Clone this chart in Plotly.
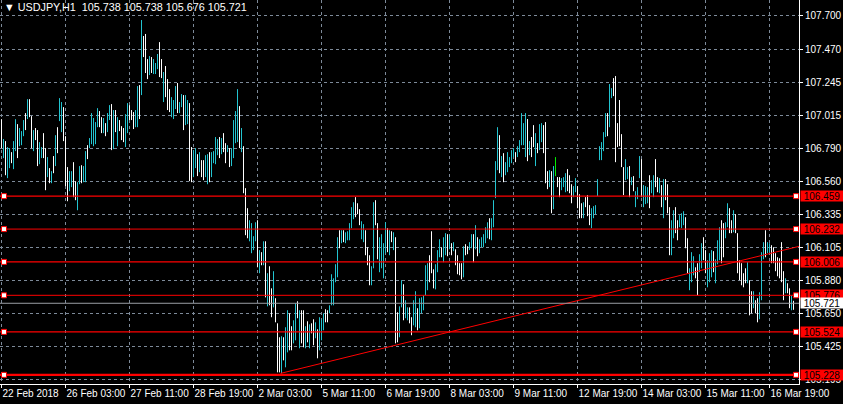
import plotly.graph_objects as go

# ---------------- data ----------------
highs = [
106.989,106.852,106.838,106.797,106.790,106.762,106.838,106.989,106.955,106.928,
106.907,106.983,107.031,107.127,107.127,107.010,106.914,106.928,106.914,106.831,
106.797,106.893,106.790,106.728,106.652,106.631,106.735,106.879,106.934,107.134,
107.107,107.072,106.872,106.659,106.631,106.631,106.693,106.562,106.555,106.666,
106.672,106.666,106.769,106.810,106.859,107.031,106.997,106.969,107.065,107.045,
107.003,106.997,106.962,107.031,107.086,107.093,107.052,107.052,107.003,106.983,
106.941,106.928,107.024,107.100,107.086,107.052,107.038,107.052,107.217,107.224,
107.672,107.562,107.576,107.403,107.424,107.417,107.403,107.376,107.438,107.520,
107.403,107.314,107.355,107.265,107.196,107.141,107.121,107.217,107.238,107.107,
107.162,107.155,107.155,107.121,107.100,106.797,106.776,106.790,106.748,106.762,
106.707,106.707,106.741,106.748,106.762,106.762,106.769,106.866,106.852,106.866,
106.859,106.893,106.824,106.810,106.790,106.790,106.983,107.045,107.196,107.079,
106.928,106.803,106.514,106.376,106.293,106.273,106.183,106.279,106.293,106.087,
106.073,106.148,106.148,105.928,105.976,105.824,105.942,105.756,105.583,105.487,
105.494,105.487,105.556,105.673,105.652,105.563,105.604,105.721,105.735,105.673,
105.673,105.673,105.563,105.597,105.576,105.583,105.611,105.590,105.542,105.625,
105.611,105.652,105.680,105.673,105.707,105.921,105.893,105.990,106.176,106.224,
106.224,106.224,106.210,106.217,106.273,106.383,106.417,106.452,106.410,106.369,
106.286,106.266,106.224,106.107,106.052,105.976,106.417,106.431,106.273,106.176,
106.197,106.135,106.279,106.238,106.224,106.217,106.210,106.176,105.659,105.700,
105.880,105.852,105.742,105.693,105.693,105.625,105.742,105.804,105.687,105.756,
105.762,105.776,105.983,105.997,106.052,106.217,105.955,105.990,106.087,106.162,
106.107,106.176,106.204,106.197,106.190,106.135,106.142,106.093,106.052,105.997,
105.997,106.114,106.128,106.114,106.142,106.197,106.197,106.259,106.176,106.162,
106.176,106.197,106.245,106.279,106.307,106.307,106.431,106.700,106.934,106.879,
106.735,106.755,106.693,106.762,106.728,106.776,106.790,106.762,106.803,106.845,
107.031,106.962,107.031,106.990,106.838,106.866,106.948,106.893,106.824,106.955,
106.962,106.948,106.969,106.631,106.638,106.631,106.666,106.728,106.590,106.590,
106.583,106.590,106.617,106.645,106.603,106.541,106.528,106.583,106.528,106.472,
106.410,106.417,106.452,106.466,106.397,106.376,106.390,106.397,106.576,106.803,
106.831,106.900,107.031,107.031,107.231,107.203,107.272,107.286,106.962,107.121,
106.886,106.659,106.714,106.659,106.666,106.590,106.597,106.493,106.521,106.735,
106.714,106.535,106.528,106.521,106.603,106.569,106.603,106.714,106.590,106.583,
106.535,106.576,106.576,106.541,106.383,106.293,106.362,106.383,106.293,106.328,
106.341,106.355,106.314,106.169,105.962,106.073,106.045,105.969,105.997,106.059,
106.135,106.176,106.087,106.018,106.066,106.087,106.080,106.024,106.155,106.245,
106.293,106.273,106.279,106.410,106.376,106.293,106.362,106.335,106.204,106.018,
105.997,105.928,105.962,106.004,105.880,105.804,105.804,105.742,105.756,105.797,
106.073,106.142,106.224,106.142,106.135,106.121,106.107,106.066,106.038,106.031,
106.142,105.942,105.893,105.859,105.824,105.776,105.738]

lows = [
106.790,106.721,106.603,106.583,106.652,106.686,106.645,106.769,106.721,106.803,
106.810,106.872,106.914,106.990,107.003,106.790,106.769,106.845,106.666,106.679,
106.721,106.721,106.500,106.590,106.548,106.548,106.617,106.666,106.755,106.976,
106.900,106.838,106.528,106.424,106.493,106.521,106.452,106.431,106.362,106.541,
106.548,106.555,106.555,106.714,106.790,106.817,106.803,106.817,106.934,106.934,
106.893,106.893,106.872,106.900,106.983,106.776,106.783,106.900,106.803,106.907,
106.845,106.831,106.797,106.893,106.983,106.983,106.921,106.934,106.934,106.990,
107.155,107.417,107.307,107.265,107.293,107.307,107.300,107.300,107.334,107.279,
107.272,107.107,107.141,107.052,107.038,107.003,106.990,107.059,107.031,107.031,
107.072,106.914,106.948,106.955,106.562,106.555,106.590,106.652,106.597,106.624,
106.590,106.569,106.590,106.541,106.555,106.590,106.686,106.679,106.741,106.721,
106.748,106.762,106.686,106.762,106.659,106.666,106.721,106.824,106.831,106.790,
106.762,106.479,106.190,106.169,106.148,106.066,106.087,106.148,105.969,105.928,
105.983,105.983,105.762,105.700,105.707,105.625,105.693,105.590,105.245,105.245,
105.238,105.328,105.280,105.383,105.397,105.397,105.445,105.466,105.618,105.411,
105.445,105.418,105.411,105.452,105.411,105.514,105.432,105.480,105.342,105.397,
105.466,105.535,105.590,105.590,105.652,105.707,105.707,105.866,105.900,106.100,
106.135,106.142,106.135,106.155,106.155,106.238,106.300,106.314,106.335,106.259,
106.162,106.142,106.052,105.983,105.845,105.845,105.962,106.259,106.024,105.935,
105.962,105.893,106.066,106.073,106.052,106.142,106.087,105.445,105.452,105.487,
105.693,105.604,105.618,105.604,105.583,105.501,105.569,105.556,105.535,105.549,
105.652,105.673,105.776,105.811,105.866,105.928,105.824,105.817,105.935,106.038,
106.038,106.004,106.052,106.045,106.093,106.052,106.080,105.983,105.921,105.914,
105.886,105.900,106.052,106.059,106.087,106.100,106.004,106.093,106.045,106.066,
106.107,106.107,106.135,106.169,106.162,106.155,106.245,106.445,106.638,106.617,
106.590,106.555,106.603,106.624,106.659,106.686,106.728,106.693,106.728,106.762,
106.810,106.810,106.728,106.700,106.741,106.728,106.797,106.666,106.755,106.776,
106.831,106.755,106.548,106.507,106.521,106.341,106.369,106.597,106.521,106.452,
106.500,106.521,106.486,106.493,106.479,106.410,106.452,106.486,106.376,106.307,
106.307,106.307,106.383,106.321,106.259,106.238,106.307,106.335,106.459,106.707,
106.707,106.769,106.866,106.872,106.934,107.134,107.148,106.693,106.797,106.803,
106.659,106.466,106.569,106.576,106.452,106.535,106.493,106.383,106.438,106.583,
106.452,106.383,106.404,106.410,106.376,106.479,106.452,106.521,106.486,106.479,
106.383,106.307,106.431,106.341,106.052,106.052,106.169,106.204,106.155,106.245,
106.238,106.259,106.100,105.928,105.811,105.866,105.914,105.893,105.776,105.935,
105.962,106.018,105.928,105.831,105.866,105.900,105.935,105.859,105.990,106.018,
105.997,106.038,106.169,106.245,106.204,106.204,106.210,106.204,105.928,105.880,
105.845,105.831,105.859,105.859,105.638,105.652,105.687,105.652,105.590,105.611,
105.742,106.024,106.038,106.066,106.073,105.997,105.997,105.942,105.907,105.893,
105.866,105.742,105.790,105.790,105.687,105.673,105.676]

# u = up bar (cyan), d = down bar (white), n = unchanged bar (green)
directions = (
    "duduuduudu" "uududduddu" "uddudududu" "uddduudduu" "duuduuuuud"
    "duduududud" "dduuddduud" "uddduduuud" "duddduuudu" "uduudduudu"
    "dduuduuuud" "udduduuuud" "uddduuuudu" "dududduddd" "uduudduudu"
    "ddududdudu" "uudduuuuud" "uduuuuuddd" "uuddduuddu" "uuudududdu"
    "uduudduudu" "uuuuddduuu" "duudududdd" "dudduududu" "uuuuduuuud"
    "uduuuuuduu" "uuududdudu" "udddudundd" "uuuddduudd" "duddduuuuu"
    "uuuduudddd" "dduududuuu" "duuuduuddu" "duddduuddu" "uudduuuddu"
    "udduuuduuu" "dduudduddd" "dddudduddu" "uuduuddddd" "dduddud"
)

x_tick_pos = [0, 32, 64, 96, 128, 160, 192, 224, 256, 288, 320, 352, 384]
x_tick_text = ["22 Feb 2018", "26 Feb 03:00", "27 Feb 11:00", "28 Feb 19:00",
               "2 Mar 03:00", "5 Mar 11:00", "6 Mar 19:00", "8 Mar 03:00",
               "9 Mar 11:00", "12 Mar 19:00", "14 Mar 03:00", "15 Mar 11:00",
               "16 Mar 19:00"]
y_tick_vals = [107.700, 107.470, 107.245, 107.015, 106.790, 106.560,
               106.335, 106.105, 105.880, 105.650, 105.425, 105.195]
y_tick_text = ["107.700", "107.470", "107.245", "107.015", "106.790", "106.560",
               "106.335", "106.105", "105.880", "105.650", "105.425", "105.195"]

level_prices = [106.459, 106.232, 106.006, 105.776, 105.524, 105.228]
level_labels = ["106.459", "106.232", "106.006", "105.776", "105.524", "105.228"]
bid_price = 105.721
bid_label = "105.721"

# trend line anchors: (bar index, price)
trend_bar = [139.5, 259.5]
trend_price = [105.238, 105.643]

title_text = "USDJPY,H1\u00a0\u00a0105.738 105.738 105.676 105.721"

# ---------------- styling ----------------
BG = "#000000"
GRID = "#7d8a99"
UP = "#22c4d0"
DOWN = "#ffffff"
NEUTRAL = "#00ee00"
RED = "#ff0000"
FONT = "Liberation Sans, Arial, sans-serif"
level_widths = [1.4, 1, 1.4, 1, 1.4, 2.2]

X_MIN, X_MAX = -0.75, 398.75
Y_MIN, Y_MAX = 105.165, 107.810

fig = go.Figure()

# bars as vertical high-low segments, one trace per colour
groups = {"u": ([], [], UP), "d": ([], [], DOWN), "n": ([], [], NEUTRAL)}
for i, (h, l, d) in enumerate(zip(highs, lows, directions)):
    xs, ys, _ = groups[d]
    xs += [i, i, None]
    ys += [l, h, None]
for key, (xs, ys, col) in groups.items():
    fig.add_trace(go.Scatter(x=xs, y=ys, mode="lines",
                             line=dict(color=col, width=1),
                             hoverinfo="skip", showlegend=False))

# horizontal red levels with end handles
for p, w in zip(level_prices, level_widths):
    fig.add_shape(type="line", xref="paper", x0=0, x1=1, yref="y", y0=p, y1=p,
                  line=dict(color=RED, width=w), layer="above")
    for anchor, x0, x1 in ((0, 1.5, 6.5), (1, -5.5, -0.5)):
        fig.add_shape(type="rect", xref="paper", xsizemode="pixel", xanchor=anchor,
                      x0=x0, x1=x1, yref="y", ysizemode="pixel", yanchor=p,
                      y0=-2.5, y1=2.5, fillcolor="#ffffff",
                      line=dict(color=RED, width=1), layer="above")

# bid line
fig.add_shape(type="line", xref="paper", x0=0, x1=1, yref="y", y0=bid_price,
              y1=bid_price, line=dict(color="#9a9ea4", width=1), layer="above")

# trend ray (extended to the right edge)
slope = (trend_price[1] - trend_price[0]) / (trend_bar[1] - trend_bar[0])
ray_x = [trend_bar[0], X_MAX]
ray_y = [trend_price[0], trend_price[0] + slope * (X_MAX - trend_bar[0])]
fig.add_trace(go.Scatter(x=ray_x, y=ray_y, mode="lines",
                         line=dict(color=RED, width=1),
                         hoverinfo="skip", showlegend=False))

# right-hand price boxes
for p, t in zip(level_prices, level_labels):
    fig.add_annotation(xref="paper", x=1, xanchor="left", xshift=1,
                       yref="y", y=p, yanchor="middle", text=t, showarrow=False,
                       bgcolor=RED, width=42, height=10, align="center",
                       borderpad=0, font=dict(family=FONT, size=10, color="#000000"))
fig.add_annotation(xref="paper", x=1, xanchor="left", xshift=1,
                   yref="y", y=bid_price, yanchor="middle", text=bid_label,
                   showarrow=False, bgcolor="#ffffff", width=42, height=10,
                   align="center", borderpad=0,
                   font=dict(family=FONT, size=10, color="#000000"))

# title
fig.add_annotation(xref="paper", yref="paper", x=0, y=1, xanchor="left",
                   yanchor="top", xshift=2, yshift=1,
                   text="\u25bc " + title_text, showarrow=False,
                   font=dict(family=FONT, size=10.8, color="#ffffff"))

fig.update_layout(
    width=843, height=404,
    margin=dict(l=0, r=44, t=0, b=20, autoexpand=False),
    paper_bgcolor=BG, plot_bgcolor=BG,
    showlegend=False, hovermode=False,
    font=dict(family=FONT, size=10, color="#ffffff"),
    xaxis=dict(range=[X_MIN, X_MAX], tickmode="array", tickvals=x_tick_pos,
               ticktext=x_tick_text, ticks="outside", ticklen=3, tickangle=0,
               tickcolor="#ffffff", ticklabelposition="outside right",
               automargin=False,
               showgrid=True, gridcolor=GRID, griddash="3px,3px", gridwidth=1,
               zeroline=False, showline=True, linecolor="#ffffff", linewidth=1,
               tickfont=dict(family=FONT, size=10, color="#ffffff"),
               fixedrange=True),
    yaxis=dict(range=[Y_MIN, Y_MAX], side="right", tickmode="array",
               tickvals=y_tick_vals, ticktext=y_tick_text, ticks="outside",
               ticklen=3, tickcolor="#ffffff", automargin=False,
               showgrid=True, gridcolor=GRID,
               griddash="3px,3px", gridwidth=1, zeroline=False, showline=True,
               linecolor="#ffffff", linewidth=1,
               tickfont=dict(family=FONT, size=10, color="#ffffff"),
               fixedrange=True),
)

fig.write_html(
    "out.html",
    config={"displayModeBar": False, "responsive": False},
    post_script="document.body.style.margin='0';"
                "document.body.style.background='#000';"
                "document.documentElement.style.overflow='hidden';",
)
